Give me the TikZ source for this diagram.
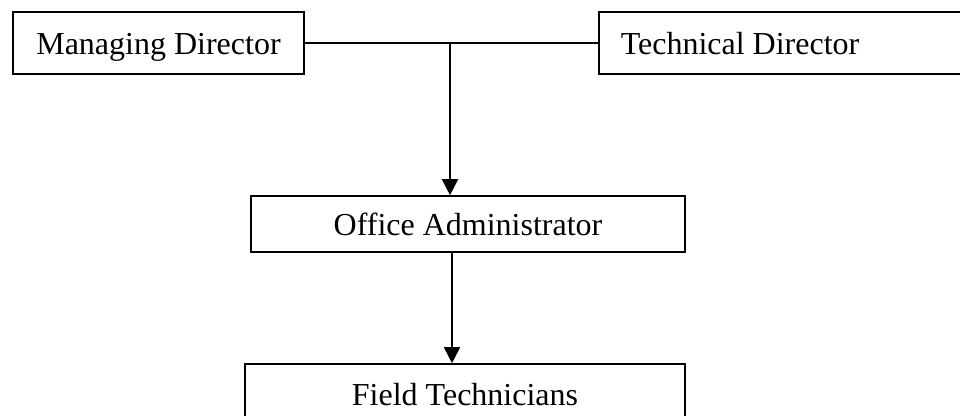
\documentclass[tikz,border=0pt]{standalone}
\usepackage{fontspec}
\setmainfont{Liberation Serif}
\usetikzlibrary{arrows.meta}
\begin{document}
\begin{tikzpicture}[x=1pt,y=-1pt,
  box/.style={draw=black, line width=1.6pt, rectangle, inner sep=0pt,
    text height=22pt, text depth=0pt, font=\fontsize{32}{38}\selectfont},
  conn/.style={line width=1.7pt},
  arr/.style={line width=1.7pt, -{Triangle[length=16pt,width=16pt]}}]
\useasboundingbox (0,0) rectangle (960,415);
\clip (0,0) rectangle (960,415);
\node[box, minimum width=291pt, minimum height=62pt] (md) at (158.5,43) {Managing Director};
\node[box, minimum width=400pt, minimum height=62pt, anchor=west] (td) at (598,43)
  {\makebox[356pt][l]{Technical Director}};
\node[box, minimum width=434pt, minimum height=56pt] (oa) at (468,224) {Office Administrator};
\node[box, minimum width=440pt, minimum height=60pt] (ft) at (465,394) {Field Technicians};
\coordinate (j) at (450,43);
\coordinate (k) at (452,0);
\draw[conn] (md.east) -- (td.west);
\draw[arr] (j) -- (j |- oa.north);
\draw[arr] (k |- oa.south) -- (k |- ft.north);
\end{tikzpicture}
\end{document}
